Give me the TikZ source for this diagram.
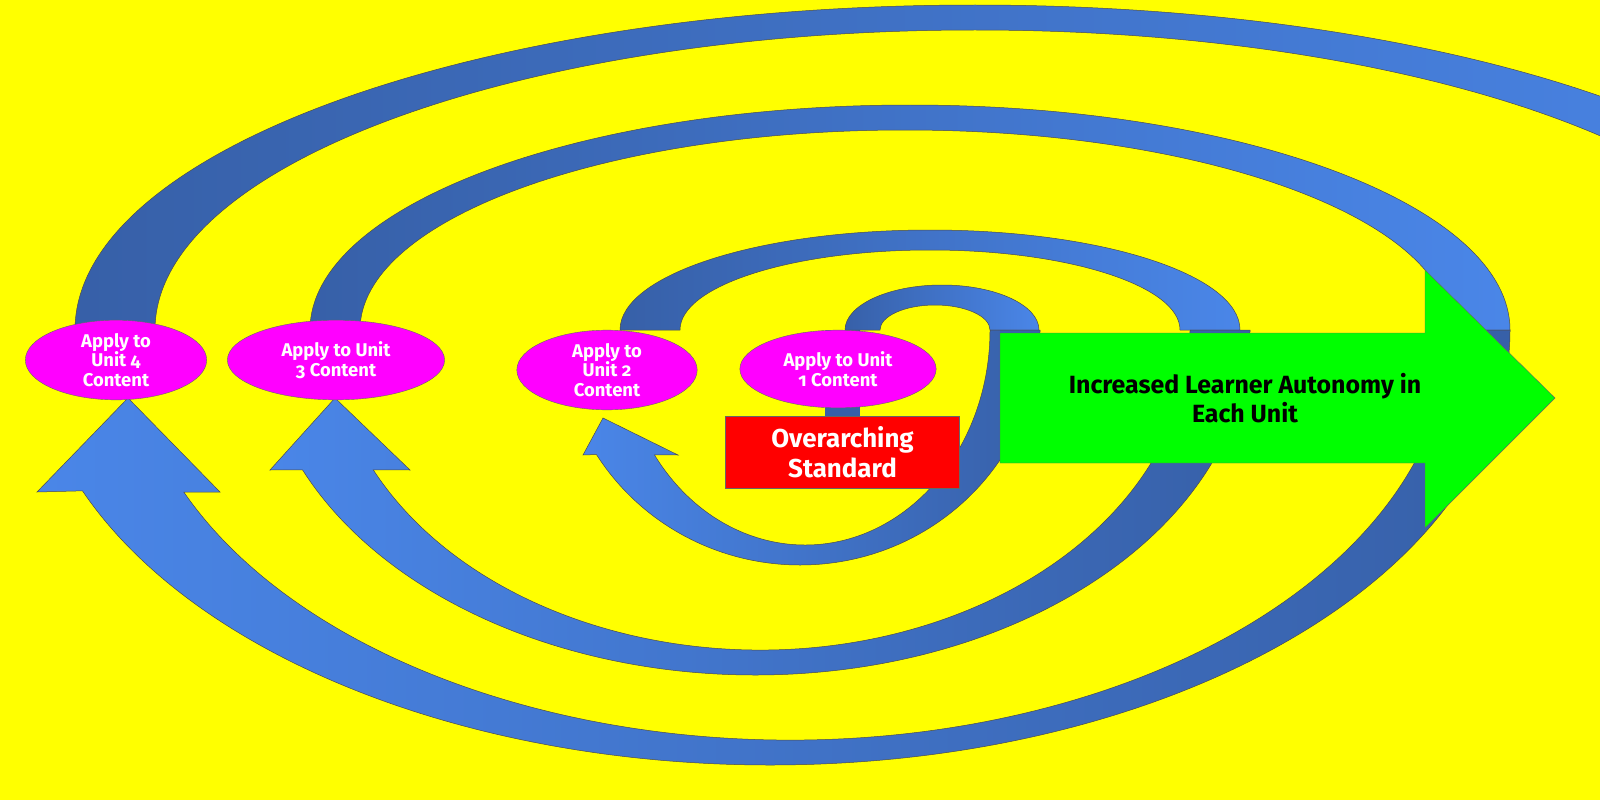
\documentclass[tikz,border=0pt]{standalone}
\usepackage{fontspec}
\usetikzlibrary{calc,shapes.geometric}
\setmainfont{Fira Sans}[Numbers=OldStyle]
\definecolor{blueL}{HTML}{4A86E8}
\definecolor{blueD}{HTML}{3760A8}
\definecolor{ylw}{HTML}{FFFF00}
\definecolor{mag}{HTML}{FF00FF}
\definecolor{grn}{HTML}{00FF00}
\begin{document}
\begin{tikzpicture}[x=1bp,y=-1bp,
  topr/.style={draw=black!70,line width=0.5pt,left color=blueD,right color=blueL},
  botr/.style={draw=black!70,line width=0.5pt,left color=blueL,right color=blueD},
  unit/.style={ellipse,draw=black!60,fill=mag,text=white,font=\bfseries\fontsize{18.5}{19.5}\selectfont,align=center,inner sep=0pt},
  ]
\useasboundingbox (0,0) rectangle (1600,800);
\fill[ylw] (0,0) rectangle (1600,800);
\clip (0,0) rectangle (1600,800);
% arrow 4 top
\draw[topr] (75,330) arc[start angle=180,end angle=360,x radius=900,y radius=325]
  -- (1795,330) arc[start angle=0,end angle=-180,x radius=820,y radius=300] -- cycle;
% arrow 3
\draw[topr] (310,330) arc[start angle=180,end angle=360,x radius=600,y radius=225]
  -- (1450,330) arc[start angle=0,end angle=-180,x radius=545,y radius=200] -- cycle;
\draw[botr] (1510,330) arc[start angle=0,end angle=158.3,x radius=740,y radius=435]
  -- (37,492) -- (128,398) -- (220,492) -- ($(790,330)+(156.7:660 and 410)$)
  arc[start angle=156.7,end angle=0,x radius=660,y radius=410] -- cycle;
% arrow 2
\draw[topr] (620,330) arc[start angle=180,end angle=360,x radius=310,y radius=100]
  -- (1180,330) arc[start angle=0,end angle=-180,x radius=250,y radius=80] -- cycle;
\draw[botr] (1250,330) arc[start angle=0,end angle=156.1,x radius=495,y radius=345]
  -- (270,470) -- (335,398) -- (410,470) -- ($(760,330)+(154.1:430 and 320)$)
  arc[start angle=154.1,end angle=0,x radius=430,y radius=320] -- cycle;
% arrow 1
\fill[blueD] (825,330) rectangle (860,418);
\draw[topr] (845,330) arc[start angle=180,end angle=360,x radius=97,y radius=45]
  -- (990,330) arc[start angle=0,end angle=-180,x radius=55,y radius=25] -- cycle;
\draw[botr] (1040,330) arc[start angle=0,end angle=148,x radius=240,y radius=235]
  -- (583,455) -- (603,418) -- (678,455) -- ($(805,330)+(144.5:185 and 215)$)
  arc[start angle=144.5,end angle=0,x radius=185,y radius=215] -- cycle;
% green arrow
\draw[draw=black!60,fill=grn] (1000,333) -- (1425,333) -- (1425,270) -- (1555,398)
  -- (1425,528) -- (1425,463) -- (1000,463) -- cycle;
\node[font=\bfseries\fontsize{25}{29}\selectfont,align=center] (goal) at (1245,398) {Increased Learner Autonomy in\\Each Unit};
% ellipses
\node[unit,minimum width=182,minimum height=80] (u4) at (116,360) {Apply to\\Unit 4\\Content};
\node[unit,minimum width=218,minimum height=80] (u3) at (336,360) {Apply to Unit\\3 Content};
\node[unit,minimum width=181,minimum height=80] (u2) at (607,370) {Apply to\\Unit 2\\Content};
\node[unit,minimum width=197,minimum height=78] (u1) at (838,369) {Apply to Unit\\1 Content};
\node[draw=black!60,fill=red,text=white,minimum width=235,minimum height=72,align=center,
  font=\bfseries\fontsize{26}{30}\selectfont] (std) at (842.5,452) {Overarching\\Standard};
\end{tikzpicture}
\end{document}
